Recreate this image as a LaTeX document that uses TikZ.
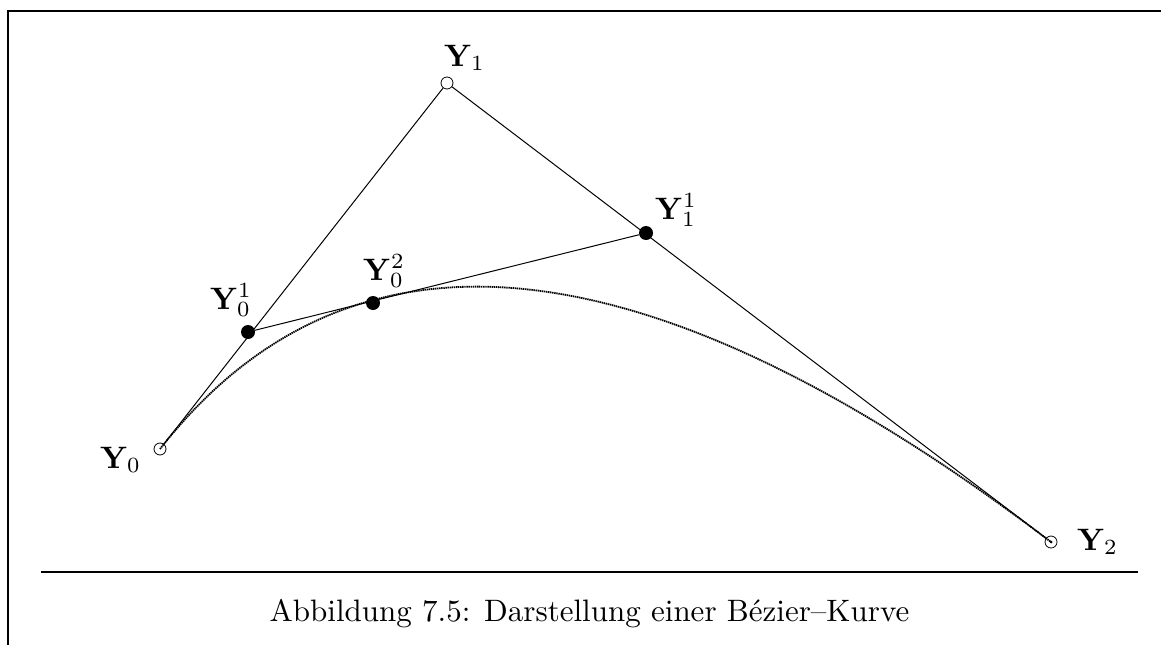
\documentclass[tikz,border=0pt]{standalone}
\usepackage{graphicx}
\usetikzlibrary{calc}
\newcommand{\bigtxt}[1]{\scalebox{3.1}{#1}}
\tikzset{
  opendot/.style={circle,draw,fill=white,inner sep=0pt,minimum size=12pt,line width=0.8pt},
  fulldot/.style={circle,fill=black,inner sep=0pt,minimum size=14pt},
  lbl/.style={anchor=base west,inner sep=0pt},
  thin line/.style={line width=1pt},
  frame line/.style={line width=2.2pt},
  curve/.style={line width=1.8pt,dash pattern=on 1.4pt off 0.7pt}
}
\begin{document}
\begin{tikzpicture}[x=1pt,y=-1pt]
\useasboundingbox (0,0) rectangle (1161,645);
% frame
\draw[frame line] (7,11) -- (1161,11);
\draw[frame line] (8,10) -- (8,645);
\draw[frame line] (41,572) -- (1138,572);
% control points
\node[opendot] (Y0) at (160,449) {};
\node[opendot] (Y1) at (447,83) {};
\node[opendot] (Y2) at (1051,542) {};
\node[fulldot] (Y01) at (248,332) {};
\node[fulldot] (Y11) at (646,233) {};
\node[fulldot] (Y02) at (373,303) {};
% polygon
\draw[thin line] (Y0) -- (Y1);
\draw[thin line] (Y1) -- (Y2);
\draw[thin line] (Y01) -- (Y11);
% bezier curve
\draw[curve] (Y0.center) .. controls ($(Y0.center)!2/3!(Y1.center)$) and ($(Y2.center)!2/3!(Y1.center)$) .. (Y2.center);
\fill (Y2.center) circle (1.5pt);
% labels
\node[lbl] (L0) at (100,468) {\bigtxt{$\mathbf{Y}_0$}};
\node[lbl] (L1) at (444,66) {\bigtxt{$\mathbf{Y}_1$}};
\node[lbl] (L2) at (1077,550) {\bigtxt{$\mathbf{Y}_2$}};
\node[lbl] (L01) at (210,309) {\bigtxt{$\mathbf{Y}_0^1$}};
\node[lbl] (L11) at (655,219) {\bigtxt{$\mathbf{Y}_1^1$}};
\node[lbl] (L02) at (363,280) {\bigtxt{$\mathbf{Y}_0^2$}};
% caption
\node[anchor=base,inner sep=0pt] (cap) at (589.5,621) {\bigtxt{Abbildung 7.5: Darstellung einer Bézier–Kurve}};
\end{tikzpicture}
\end{document}
